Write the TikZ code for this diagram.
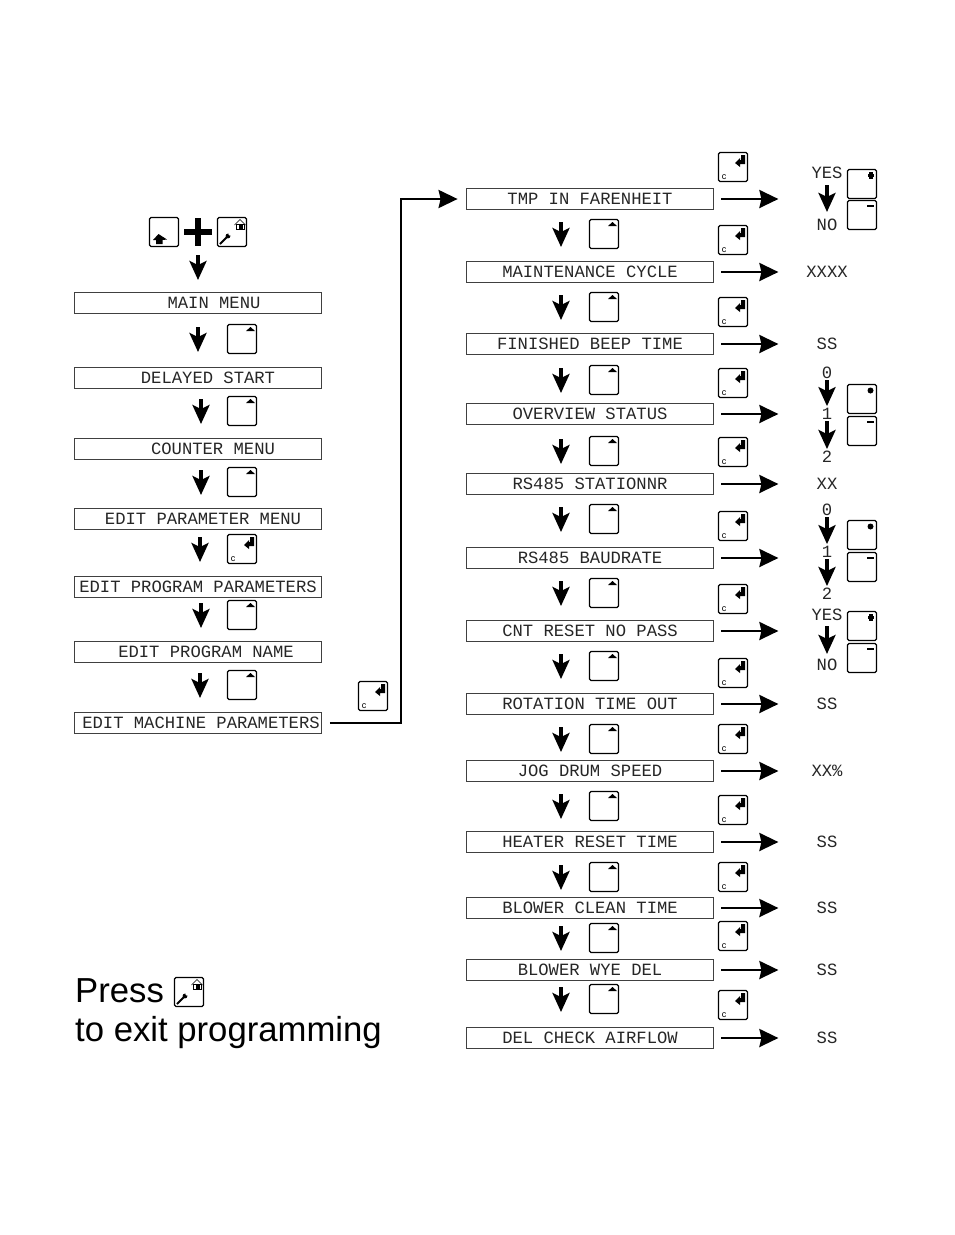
\documentclass[tikz,border=0pt]{standalone}
\usepackage{fontspec}
\usetikzlibrary{arrows.meta}
\setmainfont{Liberation Sans}
\newfontfamily\lcdfont{Liberation Mono}
\tikzset{
  x=1pt,y=-1pt,
  menubox/.style={draw=black!75,line width=0.8pt,minimum width=247pt,minimum height=21pt,inner sep=0pt},
  lcdtext/.style={font=\lcdfont\fontsize{17.2}{18}\selectfont,text=black!85,inner sep=0pt,anchor=center},
  keybox/.style={draw=black,line width=1.2pt,rounded corners=1.5pt,minimum size=29pt,inner sep=0pt},
  stepdown/.style={draw=black,line width=3.5pt,-{Stealth[length=19pt,width=17pt,inset=4pt]}},
  valuearrow/.style={draw=black,line width=2.5pt,-{Stealth[length=19pt,width=18pt,inset=2pt]}},
  feedline/.style={draw=black,line width=2.5pt,-{Stealth[length=19pt,width=18pt,inset=2pt]}},
  glyph/.style={fill=black,draw=none}
}
% Keypad buttons: the frame is a named node, the symbol sits in its corner
\newcommand{\keyup}[2]{\node[keybox] (#1) at (#2) {};
  \fill[glyph] ([shift={(4,-8)}]#1.center) -- ([shift={(8.5,-12)}]#1.center) -- ([shift={(13,-8)}]#1.center) -- cycle;}
\newcommand{\keyplus}[2]{\node[keybox] (#1) at (#2) {};
  \fill[glyph] ([shift={(7,-12)}]#1.center) rectangle ([shift={(10.5,-5.5)}]#1.center);
  \fill[glyph] ([shift={(5.5,-10.5)}]#1.center) rectangle ([shift={(12,-7)}]#1.center);}
\newcommand{\keydot}[2]{\node[keybox] (#1) at (#2) {};
  \fill[glyph] ([shift={(8.5,-8.5)}]#1.center) circle (3);}
\newcommand{\keyminus}[2]{\node[keybox] (#1) at (#2) {};
  \fill[glyph] ([shift={(5,-10.5)}]#1.center) rectangle ([shift={(12,-8)}]#1.center);}
\newcommand{\keyenter}[2]{\node[keybox] (#1) at (#2) {};
  \fill[glyph] ([shift={(8,-12)}]#1.center) -- ([shift={(12,-12)}]#1.center) -- ([shift={(12,-3)}]#1.center)
    -- ([shift={(7,-3)}]#1.center) -- ([shift={(7,0)}]#1.center) -- ([shift={(2,-4)}]#1.center)
    -- ([shift={(7,-9)}]#1.center) -- ([shift={(7,-7)}]#1.center) -- ([shift={(8,-7)}]#1.center) -- cycle;
  \node[font=\fontsize{9}{9}\selectfont,inner sep=0pt] at ([shift={(-9,10)}]#1.center) {c};}
\newcommand{\keyshift}[2]{\node[keybox] (#1) at (#2) {};
  \fill[glyph] ([shift={(-5.5,2)}]#1.center) -- ([shift={(3,7.5)}]#1.center) -- ([shift={(-1.5,8)}]#1.center)
    -- ([shift={(-1.5,12)}]#1.center) -- ([shift={(-8,12)}]#1.center) -- ([shift={(-8,8)}]#1.center)
    -- ([shift={(-11,8)}]#1.center) -- cycle;}
\newcommand{\keyhome}[2]{\node[keybox] (#1) at (#2) {};
  \draw[line width=0.6pt,black] ([shift={(2.5,-7)}]#1.center) -- ([shift={(8,-12.5)}]#1.center) -- ([shift={(13.5,-7)}]#1.center);
  \draw[line width=0.6pt,black] ([shift={(4,-8)}]#1.center) rectangle ([shift={(12,-2.5)}]#1.center);
  \fill[glyph] ([shift={(6.5,-7)}]#1.center) rectangle ([shift={(10.5,-3.5)}]#1.center);
  \draw[line width=2pt,black] ([shift={(-4,4)}]#1.center) -- ([shift={(-12,12)}]#1.center);
  \fill[glyph] ([shift={(-4,4)}]#1.center) circle (2.4);
  \fill[white] ([shift={(-2.2,2.2)}]#1.center) circle (1.4);}
\begin{document}
\begin{tikzpicture}
\useasboundingbox (0,0) rectangle (954,1235);

% Entry key combination
\keyshift{kshift}{164,232}
\keyhome{khome}{232,232}
\node[inner sep=0pt,minimum size=0pt] (plus) at (198,232) {};
\fill[black] (184,229) rectangle (212,235);
\fill[black] (195,218) rectangle (201,246);

% Main menu column
\foreach \n/\y/\tx/\t in {
  l1/303/214/MAIN MENU,
  l2/378/208/DELAYED START,
  l3/449/213/COUNTER MENU,
  l4/519/203/EDIT PARAMETER MENU,
  l5/587/198/EDIT PROGRAM PARAMETERS,
  l6/652/206/EDIT PROGRAM NAME,
  l7/723/201/EDIT MACHINE PARAMETERS}{
  \node[menubox] (\n) at (198,\y) {};
  \node[lcdtext] at (\tx,\y) {\t};
}
\coordinate (s0) at (198,255);
\draw[stepdown] (s0) -- (198,280);
\keyup{la}{242,339}
\keyup{lb}{242,411}
\keyup{lc}{242,482}
\keyenter{ld}{242,549}
\keyup{le}{242,615}
\keyup{lf}{242,685}
\draw[stepdown] ([shift={(-44,-12)}]la.center) -- ([shift={(-44,13)}]la.center);
\draw[stepdown] ([shift={(-41,-12)}]lb.center) -- ([shift={(-41,13)}]lb.center);
\draw[stepdown] ([shift={(-41,-12)}]lc.center) -- ([shift={(-41,13)}]lc.center);
\draw[stepdown] ([shift={(-42,-12)}]ld.center) -- ([shift={(-42,13)}]ld.center);
\draw[stepdown] ([shift={(-41,-12)}]le.center) -- ([shift={(-41,13)}]le.center);
\draw[stepdown] ([shift={(-42,-12)}]lf.center) -- ([shift={(-42,13)}]lf.center);

% Machine parameter list
\foreach \n/\y/\t in {
  1/199/TMP IN FARENHEIT,
  2/272/MAINTENANCE CYCLE,
  3/344/FINISHED BEEP TIME,
  4/414/OVERVIEW STATUS,
  5/484/RS485 STATIONNR,
  6/558/RS485 BAUDRATE,
  7/631/CNT RESET NO PASS,
  8/704/ROTATION TIME OUT,
  9/771/JOG DRUM SPEED,
  10/842/HEATER RESET TIME,
  11/908/BLOWER CLEAN TIME,
  12/970/BLOWER WYE DEL,
  13/1038/DEL CHECK AIRFLOW}{
  \node[menubox] (r\n) at (589.5,\y) {};
  \node[lcdtext] at (590,\y) {\t};
  \draw[valuearrow] ([xshift=8]r\n.east) -- ([xshift=65]r\n.east);
}

% Link to the machine parameter list
\keyenter{kmach}{373,696}
\draw[feedline] ([xshift=8]l7.east) -- (401,723) -- (401,199) -- ([xshift=-8]r1.west);

% Enter keys beside each entry
\foreach \n/\y in {1/167,2/240,3/312,4/383,5/452,6/526,7/599,8/673,9/739,10/810,11/877,12/936,13/1005}{
  \keyenter{e\n}{733,\y}
}
% Step keys and arrows between entries
\foreach \n/\y in {1/234,2/307,3/380,4/451,5/519,6/593,7/666,8/739,9/806,10/877,11/938,12/999}{
  \keyup{u\n}{604,\y}
  \draw[stepdown] ([shift={(-43,-12)}]u\n.center) -- ([shift={(-43,13)}]u\n.center);
}

% Values shown for each entry
\node[lcdtext] (yes1) at (827,173) {YES};
\node[lcdtext] (no1) at (827,225) {NO};
\draw[stepdown] ([yshift=-6]yes1.south) -- ([yshift=7]no1.north);
\keyplus{p1}{862,184}
\keyminus{m1}{862,215}

\node[lcdtext] at (827,272) {XXXX};
\node[lcdtext] at (827,344) {SS};

\node[lcdtext] (a0) at (827,373) {0};
\node[lcdtext] (a1) at (827,414) {1};
\node[lcdtext] (a2) at (827,457) {2};
\draw[stepdown] ([yshift=-1]a0.south) -- ([yshift=2]a1.north);
\draw[stepdown] ([yshift=-1]a1.south) -- ([yshift=2]a2.north);
\keydot{p2}{862,399}
\keyminus{m2}{862,431}

\node[lcdtext] at (827,484) {XX};

\node[lcdtext] (b0) at (827,510) {0};
\node[lcdtext] (b1) at (827,552) {1};
\node[lcdtext] (b2) at (827,594) {2};
\draw[stepdown] ([yshift=-1]b0.south) -- ([yshift=2]b1.north);
\draw[stepdown] ([yshift=-1]b1.south) -- ([yshift=2]b2.north);
\keydot{p3}{862,535}
\keyminus{m3}{862,567}

\node[lcdtext] (yes2) at (827,615) {YES};
\node[lcdtext] (no2) at (827,665) {NO};
\draw[stepdown] ([yshift=-5]yes2.south) -- ([yshift=5]no2.north);
\keyplus{p4}{862,626}
\keyminus{m4}{862,658}

\node[lcdtext] at (827,704) {SS};
\node[lcdtext] at (827,771) {XX\%};
\node[lcdtext] at (827,842) {SS};
\node[lcdtext] at (827,908) {SS};
\node[lcdtext] at (827,970) {SS};
\node[lcdtext] at (827,1038) {SS};

% Exit note
\node[anchor=base west,inner sep=0pt,font=\fontsize{34.7}{36}\selectfont] (press) at (75,1002) {Press};
\keyhome{kexit}{189,992}
\node[anchor=base west,inner sep=0pt,font=\fontsize{34.7}{36}\selectfont] (exit) at (75,1041) {to exit programming};
\end{tikzpicture}
\end{document}
